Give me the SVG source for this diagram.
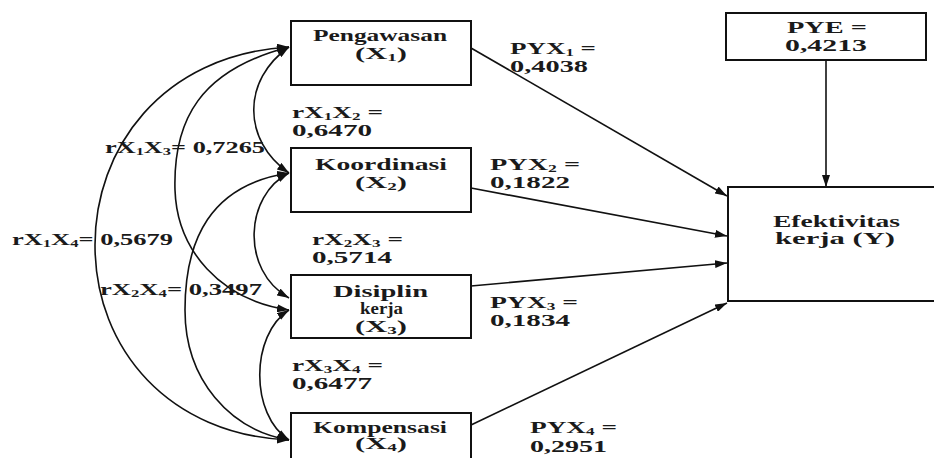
<svg xmlns="http://www.w3.org/2000/svg" width="934" height="458" viewBox="0 0 934 458">
<style>
  .box { fill: #fff; stroke: #111; stroke-width: 2; }
  .t { font-family: "Liberation Serif", "Times New Roman", serif; font-weight: bold; font-size: 16px; fill: #1a1a1a; }
  .sub { font-size: 10px; }
  .cur { fill: none; stroke: #111; stroke-width: 1.6; marker-start: url(#ah); marker-end: url(#ah); }
  .ln { fill: none; stroke: #111; stroke-width: 1.6; marker-end: url(#ah); }
</style>
<defs>
  <marker id="ah" viewBox="0 0 12 8" refX="12" refY="4" markerWidth="12" markerHeight="8" markerUnits="userSpaceOnUse" orient="auto-start-reverse">
    <path d="M0,0 L12,4 L0,8 z" fill="#111"/>
  </marker>
</defs>
<rect width="934" height="458" fill="#fff"/>

<g id="connectors">
  <path class="cur" d="M289,47 C242,80 242,140 289,173"/>
  <path class="cur" d="M289,47 C200,70 173,120 175,190 C177,250 220,300 289,310"/>
  <path class="cur" d="M289,47 C160,55 95,150 95,245 C95,350 170,435 289,440"/>
  <path class="cur" d="M289,173 C245,195 240,270 289,298"/>
  <path class="cur" d="M289,173 C210,185 185,240 185,310 C185,380 230,430 289,440"/>
  <path class="cur" d="M289,310 C250,335 250,415 289,440"/>
  <path class="ln" d="M471,48 L727,196"/>
  <path class="ln" d="M471,188 L727,236"/>
  <path class="ln" d="M471,286 L727,263"/>
  <path class="ln" d="M471,425 L727,303"/>
  <path class="ln" d="M826,60 L826,187"/>
</g>

<g id="node-x1">
  <rect class="box" x="291" y="21" width="180" height="64"/>
  <text class="t" x="313" y="41" textLength="134" lengthAdjust="spacingAndGlyphs">Pengawasan</text>
  <text class="t" x="355" y="59" textLength="52" lengthAdjust="spacingAndGlyphs">(X<tspan class="sub" dy="2">1</tspan><tspan dy="-2">)</tspan></text>
</g>
<g id="node-x2">
  <rect class="box" x="291" y="148" width="180" height="64"/>
  <text class="t" x="315" y="170" textLength="132" lengthAdjust="spacingAndGlyphs">Koordinasi</text>
  <text class="t" x="355" y="188" textLength="52" lengthAdjust="spacingAndGlyphs">(X<tspan class="sub" dy="2">2</tspan><tspan dy="-2">)</tspan></text>
</g>
<g id="node-x3">
  <rect class="box" x="291" y="275" width="180" height="63"/>
  <text class="t" x="333" y="297" textLength="95" lengthAdjust="spacingAndGlyphs">Disiplin</text>
  <text class="t" x="360" y="314" textLength="43" lengthAdjust="spacingAndGlyphs" style="font-size:17px">kerja</text>
  <text class="t" x="355" y="332" textLength="52" lengthAdjust="spacingAndGlyphs">(X<tspan class="sub" dy="2">3</tspan><tspan dy="-2">)</tspan></text>
</g>
<g id="node-x4">
  <rect class="box" x="291" y="413" width="180" height="60"/>
  <text class="t" x="313" y="433" textLength="134" lengthAdjust="spacingAndGlyphs">Kompensasi</text>
  <text class="t" x="355" y="449" textLength="52" lengthAdjust="spacingAndGlyphs">(X<tspan class="sub" dy="2">4</tspan><tspan dy="-2">)</tspan></text>
</g>
<g id="node-pye">
  <rect class="box" x="726" y="13" width="200" height="47"/>
  <text class="t" x="787" y="33" textLength="80" lengthAdjust="spacingAndGlyphs">PYE =</text>
  <text class="t" x="785" y="51" textLength="82" lengthAdjust="spacingAndGlyphs">0,4213</text>
</g>
<g id="node-y">
  <rect class="box" x="728" y="187" width="230" height="114"/>
  <text class="t" x="773" y="227" textLength="127" lengthAdjust="spacingAndGlyphs">Efektivitas</text>
  <text class="t" x="775" y="244" textLength="120" lengthAdjust="spacingAndGlyphs">kerja  (Y)</text>
</g>

<g id="labels">
  <text class="t" x="510" y="54" textLength="86" lengthAdjust="spacingAndGlyphs">PYX<tspan class="sub" dy="2">1</tspan><tspan dy="-2"> =</tspan></text>
  <text class="t" x="510" y="72" textLength="78" lengthAdjust="spacingAndGlyphs">0,4038</text>
  <text class="t" x="490" y="170" textLength="90" lengthAdjust="spacingAndGlyphs">PYX<tspan class="sub" dy="2">2</tspan><tspan dy="-2"> =</tspan></text>
  <text class="t" x="490" y="188" textLength="80" lengthAdjust="spacingAndGlyphs">0,1822</text>
  <text class="t" x="490" y="308" textLength="88" lengthAdjust="spacingAndGlyphs">PYX<tspan class="sub" dy="2">3</tspan><tspan dy="-2"> =</tspan></text>
  <text class="t" x="490" y="326" textLength="80" lengthAdjust="spacingAndGlyphs">0,1834</text>
  <text class="t" x="530" y="433" textLength="87" lengthAdjust="spacingAndGlyphs">PYX<tspan class="sub" dy="2">4</tspan><tspan dy="-2"> =</tspan></text>
  <text class="t" x="530" y="452" textLength="77" lengthAdjust="spacingAndGlyphs">0,2951</text>

  <text class="t" x="292" y="118" textLength="91" lengthAdjust="spacingAndGlyphs">rX<tspan class="sub" dy="2">1</tspan><tspan dy="-2">X</tspan><tspan class="sub" dy="2">2</tspan><tspan dy="-2"> =</tspan></text>
  <text class="t" x="292" y="136" textLength="80" lengthAdjust="spacingAndGlyphs">0,6470</text>
  <text class="t" x="312" y="245" textLength="91" lengthAdjust="spacingAndGlyphs">rX<tspan class="sub" dy="2">2</tspan><tspan dy="-2">X</tspan><tspan class="sub" dy="2">3</tspan><tspan dy="-2"> =</tspan></text>
  <text class="t" x="312" y="263" textLength="80" lengthAdjust="spacingAndGlyphs">0,5714</text>
  <text class="t" x="292" y="371" textLength="91" lengthAdjust="spacingAndGlyphs">rX<tspan class="sub" dy="2">3</tspan><tspan dy="-2">X</tspan><tspan class="sub" dy="2">4</tspan><tspan dy="-2"> =</tspan></text>
  <text class="t" x="292" y="389" textLength="80" lengthAdjust="spacingAndGlyphs">0,6477</text>

  <text class="t" x="105" y="153" textLength="160" lengthAdjust="spacingAndGlyphs">rX<tspan class="sub" dy="2">1</tspan><tspan dy="-2">X</tspan><tspan class="sub" dy="2">3</tspan><tspan dy="-2">= 0,7265</tspan></text>
  <text class="t" x="12" y="245" textLength="161" lengthAdjust="spacingAndGlyphs">rX<tspan class="sub" dy="2">1</tspan><tspan dy="-2">X</tspan><tspan class="sub" dy="2">4</tspan><tspan dy="-2">= 0,5679</tspan></text>
  <text class="t" x="100" y="295" textLength="162" lengthAdjust="spacingAndGlyphs">rX<tspan class="sub" dy="2">2</tspan><tspan dy="-2">X</tspan><tspan class="sub" dy="2">4</tspan><tspan dy="-2">= 0,3497</tspan></text>
</g>
</svg>
